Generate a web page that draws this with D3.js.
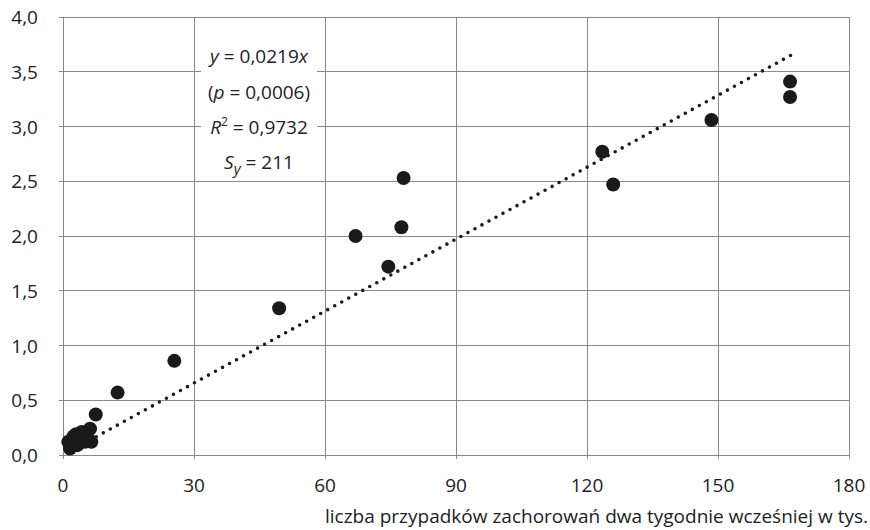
<!DOCTYPE html>
<html><head><meta charset="utf-8">
<script src="https://cdn.jsdelivr.net/npm/d3@7/dist/d3.min.js"></script>
<style>body{margin:0;background:#fff}svg{display:block}text{font-family:"Open Sans","Noto Sans",sans-serif;fill:#222}</style>
</head><body><svg id="c" width="870" height="530"></svg>
<script>
const xValues = [1.2,1.6,2.0,2.4,3.0,3.3,3.8,4.3,5.0,5.5,6.2,6.5,7.5,12.5,25.5,49.5,67,74.5,77.5,78,123.5,126,148.5,166.5,166.5];
const yValues = [0.12,0.06,0.10,0.17,0.19,0.09,0.14,0.21,0.12,0.16,0.24,0.12,0.37,0.57,0.86,1.34,2.00,1.72,2.08,2.53,2.77,2.47,3.06,3.41,3.27];
const xTicks = [0,30,60,90,120,150,180];
const yTicks = [0,0.5,1,1.5,2,2.5,3,3.5,4];
const slope = 0.0219;
const trendRange = [1.2,167.5];
const xLabel = "liczba przypadków zachorowań dwa tygodnie wcześniej w tys.";

const svg = d3.select("#c");
const m = {l:63, r:849, t:17, b:455};
const x = d3.scaleLinear().domain([0,180]).range([m.l,m.r]);
const y = d3.scaleLinear().domain([0,4]).range([m.b,m.t]);
const fmt = d => d.toFixed(1).replace(".",",");
const grid = "#8a8a8a";
const fs = 19;

// grid
svg.append("g").selectAll("line").data(yTicks).join("line")
  .attr("x1",m.l-4).attr("x2",m.r).attr("y1",d=>y(d)).attr("y2",d=>y(d))
  .attr("stroke",grid).attr("stroke-width",1).attr("shape-rendering","crispEdges");
svg.append("g").selectAll("line").data(xTicks).join("line")
  .attr("y1",m.t).attr("y2",m.b+4).attr("x1",d=>x(d)).attr("x2",d=>x(d))
  .attr("stroke",grid).attr("stroke-width",1).attr("shape-rendering","crispEdges");

// annotation box
svg.append("rect").attr("x",201).attr("y",m.t+1).attr("width",116).attr("height",160).attr("fill","#fff");
const ann = svg.append("g").attr("font-size",fs).attr("text-anchor","middle");
const ax = 259, ay = [63,99,134,169];
let t = ann.append("text").attr("x",ax).attr("y",ay[0]);
t.append("tspan").attr("font-style","italic").text("y");
t.append("tspan").text(" = 0,0219");
t.append("tspan").attr("font-style","italic").text("x");
t = ann.append("text").attr("x",ax).attr("y",ay[1]);
t.append("tspan").text("(");
t.append("tspan").attr("font-style","italic").text("p");
t.append("tspan").text("  = 0,0006)");
t = ann.append("text").attr("x",ax).attr("y",ay[2]);
t.append("tspan").attr("font-style","italic").text("R");
t.append("tspan").attr("font-size",12).attr("dy",-8).text("2");
t.append("tspan").attr("dy",8).text(" = 0,9732");
t = ann.append("text").attr("x",ax).attr("y",ay[3]);
t.append("tspan").attr("font-style","italic").text("S");
t.append("tspan").attr("font-style","italic").attr("font-size",15).attr("dy",5).text("y");
t.append("tspan").attr("dy",-5).text(" = 211");

// tick labels
svg.append("g").attr("font-size",fs).attr("text-anchor","end").selectAll("text").data(yTicks).join("text")
  .attr("x",38).attr("y",d=>y(d)+7).text(fmt);
svg.append("g").attr("font-size",fs).attr("text-anchor","middle").selectAll("text").data(xTicks).join("text")
  .attr("x",d=>x(d)).attr("y",492).text(d=>d);
svg.append("text").attr("font-size",fs).attr("text-anchor","end").attr("x",868).attr("y",523).text(xLabel);

// trend line
svg.append("line").attr("x1",x(trendRange[0])).attr("y1",y(slope*trendRange[0]))
  .attr("x2",x(trendRange[1])).attr("y2",y(slope*trendRange[1]))
  .attr("stroke","#1a1a1a").attr("stroke-width",3.6).attr("stroke-linecap","round").attr("stroke-dasharray","0 8");

// points
svg.append("g").selectAll("circle").data(xValues.map((v,i)=>[v,yValues[i]])).join("circle")
  .attr("cx",d=>x(d[0])).attr("cy",d=>y(d[1])).attr("r",7).attr("fill","#1a1a1a");
</script></body></html>
